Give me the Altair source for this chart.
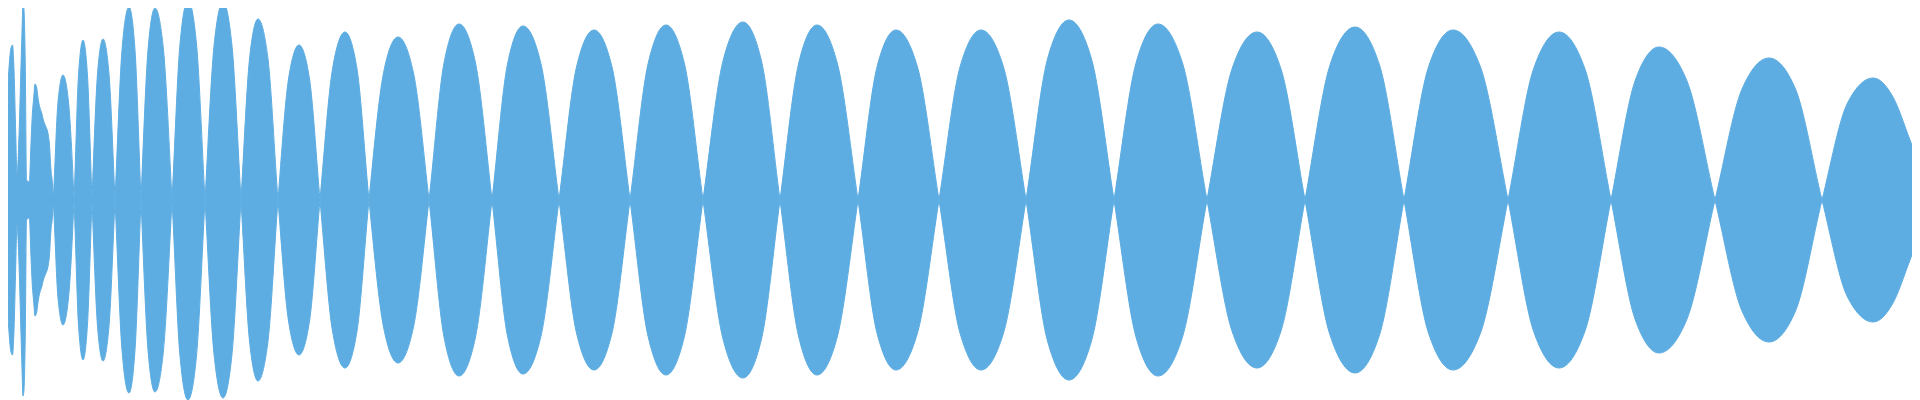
import altair as alt
import pandas as pd

# Sample positions along the waveform (time units) and signed amplitude (% of full scale)
t = [
    0, 1.5, 3.5, 5, 7, 9, 11, 12.5, 14, 15.7, 17, 19.3, 20.7, 22, 23, 24, 25.3, 26.5, 29.3, 31,
    32.3, 33.7, 35, 36.7, 38.3, 40, 41.7, 43.3, 46, 47.7, 49.3, 51, 52.3, 53.3,
    58, 63, 68.5, 74,
    78.5, 83, 87.5, 92,
    97.5, 103, 109, 115,
    122, 129, 135, 141,
    148, 155, 163.5, 172,
    180, 188, 196.5, 205,
    214, 223, 232, 241,
    249.5, 258, 268, 278,
    288.5, 299, 309.5, 320,
    332.5, 345, 357, 369,
    383.5, 398, 413.5, 429,
    444, 459, 475.5, 492,
    507.5, 523, 541, 559,
    576.5, 594, 612, 630,
    648, 666, 684.5, 703,
    723, 743, 761.5, 780,
    798.5, 817, 837.5, 858,
    877, 896, 917.5, 939,
    960, 981, 1003.5, 1026,
    1047.5, 1069, 1091.5, 1114,
    1136, 1158, 1182.5, 1207,
    1232, 1257, 1281, 1305,
    1330, 1355, 1379.5, 1404,
    1428.5, 1453, 1480.5, 1508,
    1533.5, 1559, 1585, 1611,
    1635, 1659, 1687, 1715,
    1742, 1769, 1795.5, 1822,
    1847.5, 1873, 1893, 1910, 1920, 1930,
]

amp = [
    57.5, 61.5, 26.5, 7, 47.5, 66, 76, 77.5, 65, 33.5, 12.5, 36.5, 61.5, 84, 98, 95, 66.5, 10, 9, 28.5,
    42.5, 51, 58, 56, 50, 46, 43.5, 40, 36.5, 34, 28.5, 15, 9, 0,
    -49, -62.5, -49, 0,
    62.5, 80, 62, 0,
    -63, -80.5, -63, 0,
    75, 96.5, 75, 0,
    -75, -96, -75, 0,
    78, 100, 78, 0,
    -77, -99, -77, 0,
    70.5, 90.5, 70.5, 0,
    -60.5, -77.5, -60.5, 0,
    65.5, 84, 65.5, 0,
    -63.5, -81.5, -63.5, 0,
    68.5, 88, 68.5, 0,
    -68, -87, -68, 0,
    66.5, 85, 66.5, 0,
    -68, -87.5, -68, 0,
    69.5, 89, 69.5, 0,
    -68, -87.5, -68, 0,
    66.5, 85, 66.5, 0,
    -66.5, -85, -66.5, 0,
    70.5, 90, 70.5, 0,
    -68.5, -88, -68.5, 0,
    65.5, 84, 65.5, 0,
    -67.5, -86.5, -67.5, 0,
    66.5, 85, 66.5, 0,
    -65.5, -84, -65.5, 0,
    59.5, 76.5, 59.5, 0,
    -55.5, -71, -55.5, 0,
    48.5, 61, 51.5, 30, 16.5, 0,
]

FILL = "#5DADE2"

# visible window (the page margin hides the outermost few units on each side)
X_DOMAIN = [8, 1912]
Y_DOMAIN = [-100, 96]

df = pd.DataFrame({"t": t, "amp": amp})

chart = (
    alt.Chart(df)
    .transform_calculate(neg="-datum.amp")
    .mark_area(interpolate="monotone", color=FILL, stroke=FILL, strokeWidth=1, opacity=1, clip=True)
    .encode(
        x=alt.X("t:Q", axis=None, scale=alt.Scale(domain=X_DOMAIN, nice=False, zero=False)),
        y=alt.Y("amp:Q", axis=None, scale=alt.Scale(domain=Y_DOMAIN, nice=False, zero=False)),
        y2="neg:Q",
    )
    .properties(width=1904, height=392, padding=0, autosize="none")
    .configure_view(stroke=None)
)

chart.save("out.html", embed_options={"renderer": "svg", "actions": False})
